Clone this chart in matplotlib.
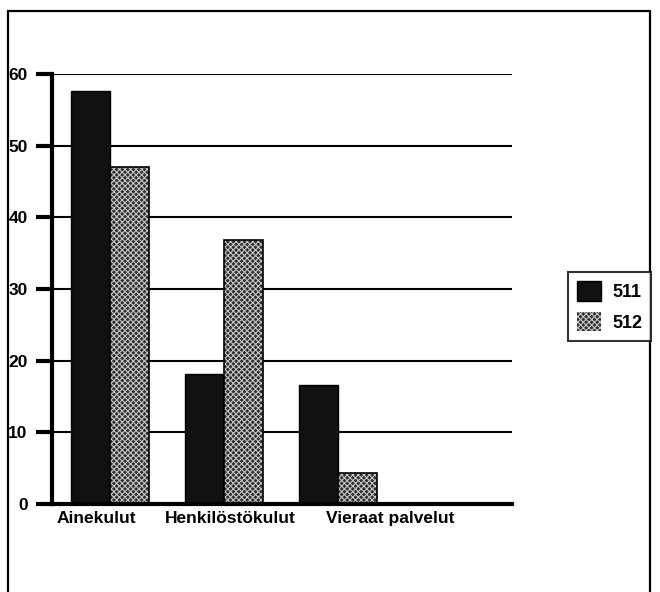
import matplotlib.pyplot as plt
import matplotlib.patches as mpatches
import numpy as np

plt.rcParams["font.family"] = ["Liberation Sans", "DejaVu Sans"]
plt.rcParams["font.weight"] = "bold"
plt.rcParams["hatch.linewidth"] = 0.8

categories = ["Ainekulut", "Henkilöstökulut", "Vieraat palvelut"]
series_names = ["511", "512"]
values_511 = [57.6, 18.2, 16.6]
values_512 = [47.0, 36.9, 4.3]
yticks = [0, 10, 20, 30, 40, 50, 60]

# label x shifts (data units) to mimic the original placement
label_shift = [-0.12, 0.06, 0.46]

DARK = "#111111"
GREY = "#2e2e2e"
HATCH_COL = "#c4c4c4"
HATCH = "xxxxxx"

fig = plt.figure(figsize=(6.6, 5.92), dpi=100)
ax = fig.add_axes([52 / 660, 1 - 504 / 592, 460 / 660, 430 / 592])

x = np.arange(len(categories))
w = 0.345

ax.bar(x - w / 2, values_511, w, color=DARK, edgecolor="black",
       linewidth=1.0, zorder=3)
ax.bar(x + w / 2, values_512, w, color=GREY, edgecolor=HATCH_COL,
       hatch=HATCH, linewidth=0, zorder=3)
ax.bar(x + w / 2, values_512, w, fill=False, edgecolor="black",
       linewidth=1.2, zorder=4)

for y in yticks[1:]:
    ax.axhline(y, color="black", linewidth=1.5, zorder=2)

ax.set_xlim(-0.51, 3.53)
ax.set_ylim(0, 60)
ax.set_yticks(yticks)
ax.set_xticks([])
ax.tick_params(axis="y", direction="out", length=11.5, width=3, pad=6,
               labelsize=12.5)
for side in ("top", "right"):
    ax.spines[side].set_visible(False)
ax.spines["left"].set_linewidth(3)
ax.spines["bottom"].set_linewidth(3)
ax.spines["left"].set_zorder(5)
ax.spines["bottom"].set_zorder(5)

for i, name in enumerate(categories):
    ax.annotate(name, xy=(x[i] + label_shift[i], 0), xytext=(0, -5),
                textcoords="offset points", ha="center", va="top",
                fontsize=12.5, fontweight="bold", annotation_clip=False)

handles = [
    mpatches.Patch(facecolor=DARK, edgecolor="black", label=series_names[0]),
    mpatches.Patch(facecolor=GREY, edgecolor=HATCH_COL, hatch=HATCH,
                   linewidth=0, label=series_names[1]),
]
leg = fig.legend(handles=handles, loc="upper left",
                 bbox_to_anchor=(568 / 660, 1 - 272 / 592), fontsize=13,
                 frameon=True, fancybox=False, edgecolor="black",
                 handlelength=1.35, handleheight=1.3, labelspacing=0.6,
                 borderpad=0.5, handletextpad=0.6, borderaxespad=0)
leg.get_frame().set_linewidth(1.5)

frame = mpatches.Rectangle((8 / 660, -0.02), 642 / 660, 1.02 - 11 / 592,
                           transform=fig.transFigure, fill=False,
                           edgecolor="black", linewidth=1.6)
fig.patches.append(frame)

fig.savefig("out.png", dpi=100)
